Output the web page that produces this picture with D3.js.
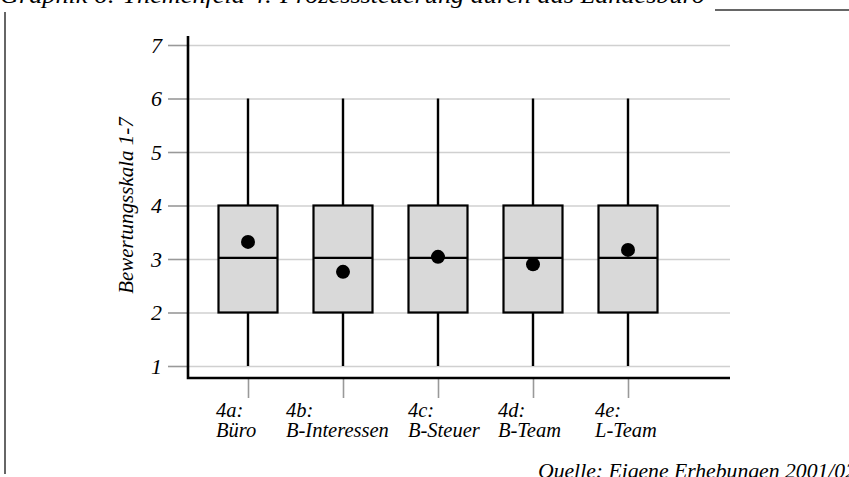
<!DOCTYPE html>
<html>
<head>
<meta charset="utf-8">
<script src="https://cdn.jsdelivr.net/npm/d3@7"></script>
<style>
  html, body { margin: 0; padding: 0; background: #fff; }
  svg { display: block; }
  text { font-family: "Liberation Serif", "DejaVu Serif", serif; font-style: italic; fill: #000; }
</style>
</head>
<body>
<svg id="chart" width="849" height="477"></svg>
<script>
// ---- data ----
const categories = ["4a:", "4b:", "4c:", "4d:", "4e:"];
const categoryNames = ["Büro", "B-Interessen", "B-Steuer", "B-Team", "L-Team"];
const whiskerMin = [1, 1, 1, 1, 1];
const q1 = [2, 2, 2, 2, 2];
const median = [3.02, 3.02, 3.02, 3.02, 3.02];
const q3 = [4, 4, 4, 4, 4];
const whiskerMax = [6, 6, 6, 6, 6];
const means = [3.32, 2.76, 3.04, 2.9, 3.17];
const yTicks = [1, 2, 3, 4, 5, 6, 7];
const titleText = "Graphik 6: Themenfeld 4: Prozesssteuerung durch das Landesbüro";
const yTitle = "Bewertungsskala 1-7";
const sourceText = "Quelle: Eigene Erhebungen 2001/02";

// ---- layout (style/config, not data) ----
const labelDx = [-32, -57, -30, -35, -33];

const svg = d3.select("#chart");

const y = d3.scaleLinear().domain([1, 7]).range([366, 45]);
const x = d3.scalePoint().domain(categories).range([248, 628]);
const axisLeftX = 188, axisRightX = 730, axisBottomY = 378;
const boxW = 59;

// frame line left & title
svg.append("line").attr("x1", 5).attr("x2", 5).attr("y1", 12).attr("y2", 474)
  .attr("stroke", "#333").attr("stroke-width", 1.5);
svg.append("text").attr("x", 0).attr("y", 3).attr("font-size", 23)
  .attr("textLength", 705).attr("lengthAdjust", "spacingAndGlyphs").text(titleText);
svg.append("line").attr("x1", 715).attr("x2", 849).attr("y1", 10).attr("y2", 10)
  .attr("stroke", "#333").attr("stroke-width", 1.5);

// gridlines via axis
const gridAxis = d3.axisLeft(y).tickValues(yTicks).tickSize(-(axisRightX - axisLeftX)).tickFormat("");
const gg = svg.append("g").attr("transform", `translate(${axisLeftX},0)`).call(gridAxis);
gg.select(".domain").remove();
gg.selectAll(".tick line").attr("stroke", "#d0d0d0").attr("stroke-width", 1.6);

// y axis with ticks
const yAxis = d3.axisLeft(y).tickValues(yTicks).tickSize(20).tickPadding(6).tickFormat(d3.format("d"));
const ya = svg.append("g").attr("transform", `translate(${axisLeftX},0)`).call(yAxis);
ya.select(".domain").remove();
ya.selectAll(".tick line").attr("stroke", "#999").attr("stroke-width", 1.6);
ya.selectAll(".tick text").attr("font-size", 22).attr("font-family", "Liberation Serif").attr("font-style", "italic").attr("fill", "#000");

// x axis ticks
const xAxis = d3.axisBottom(x).tickSize(20).tickFormat("");
const xa = svg.append("g").attr("transform", `translate(0,${axisBottomY})`).call(xAxis);
xa.select(".domain").remove();
xa.selectAll(".tick line").attr("stroke", "#999").attr("stroke-width", 1.6);

// axis lines
svg.append("path")
  .attr("d", `M${axisLeftX},36 V${axisBottomY} H${axisRightX}`)
  .attr("fill", "none").attr("stroke", "#000").attr("stroke-width", 2.6);

// x labels
categories.forEach((c, i) => {
  const t = svg.append("text").attr("font-size", 20.5);
  t.append("tspan").attr("x", x(c) + labelDx[i]).attr("y", 417).text(c);
  t.append("tspan").attr("x", x(c) + labelDx[i]).attr("y", 437).text(categoryNames[i]);
});

// y title
svg.append("text")
  .attr("transform", `translate(133,${(y(1) + y(7)) / 2}) rotate(-90)`)
  .attr("text-anchor", "middle").attr("font-size", 21).text(yTitle);

// boxes
const boxes = svg.append("g");
categories.forEach((c, i) => {
  const cx = x(c);
  const g = boxes.append("g");
  g.append("line").attr("x1", cx).attr("x2", cx).attr("y1", y(whiskerMax[i])).attr("y2", y(q3[i]))
    .attr("stroke", "#000").attr("stroke-width", 2.4);
  g.append("line").attr("x1", cx).attr("x2", cx).attr("y1", y(q1[i])).attr("y2", y(whiskerMin[i]))
    .attr("stroke", "#000").attr("stroke-width", 2.4);
  g.append("rect").attr("x", cx - boxW / 2).attr("width", boxW)
    .attr("y", y(q3[i])).attr("height", y(q1[i]) - y(q3[i]))
    .attr("fill", "#d9d9d9").attr("stroke", "#000").attr("stroke-width", 2.2);
  g.append("line").attr("x1", cx - boxW / 2).attr("x2", cx + boxW / 2)
    .attr("y1", y(median[i])).attr("y2", y(median[i]))
    .attr("stroke", "#000").attr("stroke-width", 2.2);
  g.append("circle").attr("cx", cx).attr("cy", y(means[i])).attr("r", 7).attr("fill", "#000");
});

// source
svg.append("text").attr("x", 538).attr("y", 478).attr("font-size", 20)
  .attr("textLength", 318).attr("lengthAdjust", "spacingAndGlyphs").text(sourceText);
</script>
</body>
</html>
